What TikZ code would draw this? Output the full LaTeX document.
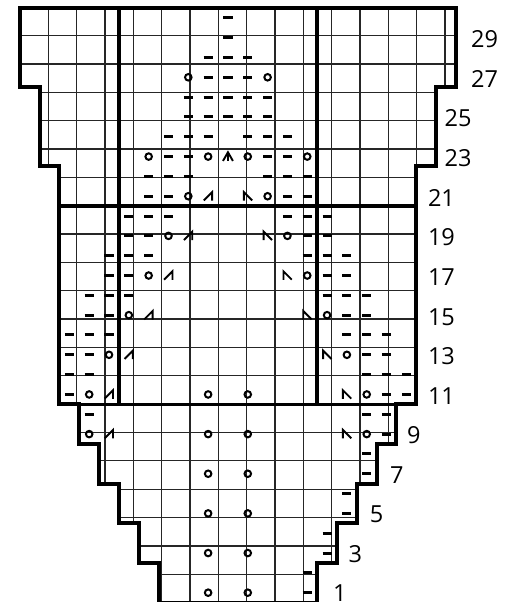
\documentclass[tikz,border=0pt]{standalone}
\usepackage{fontspec}
\setmainfont{Open Sans}
\begin{document}
\begin{tikzpicture}[x=19.82bp,y=19.82bp,
  gridline/.style={line width=1.3bp, draw=black!85},
  heavy/.style={line width=3.4bp, draw=black},
  outline/.style={line width=4bp, draw=black, line join=miter},
  rowlabel/.style={inner sep=0pt, font=\fontsize{23.5bp}{28bp}\selectfont},
  pdash/.pic={\draw[line width=3bp] (-0.23,0)--(0.23,0);},
  yo/.pic={\draw[line width=2bp] (0,0) circle (0.165);},
  ktog/.pic={\draw[line width=1.9bp, line join=miter] (-0.22,-0.21)--(0.2,0.21)--(0.2,-0.22);},
  sskd/.pic={\draw[line width=1.9bp, line join=miter] (-0.2,-0.22)--(-0.2,0.21)--(0.22,-0.21);},
  cdd/.pic={\draw[line width=1.9bp, line join=miter] (-0.25,-0.22)--(0,0.22)--(0.25,-0.22) (0,0.22)--(0,-0.22);}
]
\useasboundingbox (-1.0,0.03) rectangle (24.883,30.40);
\fill[white] (-1.0,0.03) rectangle (24.883,30.40);

% outline path
\def\chartoutline{(7,0) -- (15,0) -- (15,2) -- (16,2) -- (16,4) -- (17,4) -- (17,6) -- (18,6) -- (18,8) -- (19,8) -- (19,10) -- (20,10) -- (20,22) -- (21,22) -- (21,26) -- (22,26) -- (22,30) -- (0,30) -- (0,26) -- (1,26) -- (1,22) -- (2,22) -- (2,10) -- (3,10) -- (3,8) -- (4,8) -- (4,6) -- (5,6) -- (5,4) -- (6,4) -- (6,2) -- (7,2) -- cycle}

\begin{scope}
  \clip \chartoutline;
  \draw[gridline] (0,0) grid (22,30);
\end{scope}

% purl stitches
\foreach \r/\cs in {30/{10}, 29/{10}, 28/{9,10,11}, 27/{9,10,11}, 26/{8,9,10,11,12}, 25/{8,9,10,11,12}, 24/{7,8,9,11,12,13}, 23/{7,8,12,13}, 22/{6,7,8,12,13,14}, 21/{6,7,13,14}, 20/{5,6,7,13,14,15}, 19/{5,6,14,15}, 18/{4,5,6,14,15,16}, 17/{4,5,15,16}, 16/{3,4,5,15,16,17}, 15/{3,4,16,17}, 14/{2,3,4,16,17,18}, 13/{2,3,17,18}, 12/{2,3,17,18,19}, 11/{2,18,19}, 10/{3,17,18}, 9/{18}, 8/{17}, 7/{17}, 6/{16}, 5/{16}, 4/{15}, 3/{15}, 2/{14}, 1/{14}}
  \foreach \c in \cs \pic at (\c+0.5,\r-0.5) {pdash};

% yarn overs
\foreach \r/\cs in {27/{8,12}, 23/{6,9,11,14}, 21/{8,12}, 19/{7,13}, 17/{6,14}, 15/{5,15}, 13/{4,16}, 11/{3,9,11,17}, 9/{3,9,11,17}, 7/{9,11}, 5/{9,11}, 3/{9,11}, 1/{9,11}}
  \foreach \c in \cs \pic at (\c+0.5,\r-0.5) {yo};

% decreases
\foreach \r/\c in {21/9, 19/8, 17/7, 15/6, 13/5, 11/4, 9/4}
  \pic at (\c+0.5,\r-0.5) {ktog};
\foreach \r/\c in {21/11, 19/12, 17/13, 15/14, 13/15, 11/16, 9/16}
  \pic at (\c+0.5,\r-0.5) {sskd};
\pic at (10.5,22.5) {cdd};

% heavy internal lines
\draw[heavy] (5,10) -- (5,30);
\draw[heavy] (15,10) -- (15,30);
\draw[heavy] (2,10) -- (20,10);
\draw[heavy] (2,20) -- (20,20);

% outline
\draw[outline] \chartoutline;

% row numbers
\node[rowlabel] (l29) at (23.45,28.42) {29};
\node[rowlabel] (l27) at (23.45,26.42) {27};
\node[rowlabel] (l25) at (22.11,24.42) {25};
\node[rowlabel] (l23) at (22.11,22.42) {23};
\node[rowlabel] (l21) at (21.27,20.42) {21};
\node[rowlabel] (l19) at (21.27,18.42) {19};
\node[rowlabel] (l17) at (21.27,16.42) {17};
\node[rowlabel] (l15) at (21.27,14.42) {15};
\node[rowlabel] (l13) at (21.27,12.42) {13};
\node[rowlabel] (l11) at (21.27,10.42) {11};
\node[rowlabel] (l9) at (19.88,8.45) {9};
\node[rowlabel] (l7) at (19.02,6.45) {7};
\node[rowlabel] (l5) at (18.0,4.45) {5};
\node[rowlabel] (l3) at (16.92,2.45) {3};
\node[rowlabel] (l1) at (16.14,0.5) {1};
\end{tikzpicture}
\end{document}
